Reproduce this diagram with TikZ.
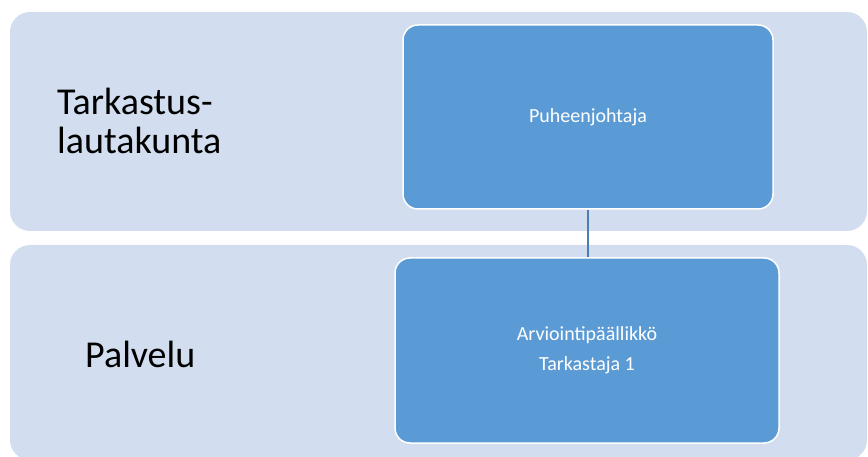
\documentclass[tikz,border=0pt]{standalone}
\usepackage{fontspec}
\setmainfont{Carlito}
\definecolor{bandfill}{HTML}{D2DEEF}
\definecolor{boxfill}{HTML}{5B9BD5}
\definecolor{linkcol}{HTML}{4A7EB5}
\begin{document}
\begin{tikzpicture}[x=1pt,y=-1pt,
  band/.style={fill=bandfill,draw=none,rounded corners=20pt,inner sep=0pt},
  unitbox/.style={fill=boxfill,draw=white,line width=1.5pt,rounded corners=15pt,
    inner sep=0pt,text=white,align=center,font=\fontsize{20}{30}\selectfont},
  levellabel/.style={inner sep=0pt,text=black,align=left,font=\fontsize{38}{39}\selectfont},
  link/.style={draw=linkcol,line width=2pt}]
\useasboundingbox (0,0) rectangle (868,457);
% horizontal bands for the two levels
\node[band,minimum width=857pt,minimum height=219pt] (boardband) at (438.5,121.5) {};
\node[band,minimum width=857pt,minimum height=215pt] (serviceband) at (438.5,352.5) {};
% level labels
\node[levellabel,anchor=west] (boardlabel) at (57,121) {Tarkastus-\\lautakunta};
\node[levellabel,anchor=base west] (servicelabel) at (85,367) {Palvelu};
% organisation boxes
\node[unitbox,minimum width=370pt,minimum height=184pt] (chair) at (588,117) {Puheenjohtaja};
\node[unitbox,minimum width=384pt,minimum height=185pt] (head) at (587,350.5) {Arviointipäällikkö\\Tarkastaja 1};
% connector
\draw[link] (chair.south) -- (chair.south |- head.north);
\end{tikzpicture}
\end{document}
